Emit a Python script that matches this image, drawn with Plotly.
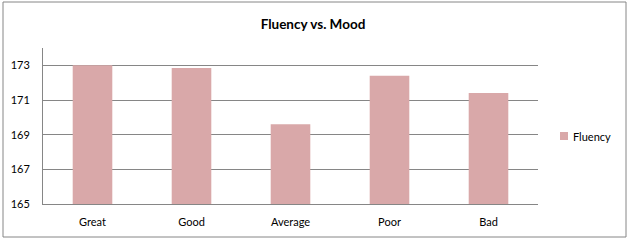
import plotly.graph_objects as go

categories = ["Great", "Good", "Average", "Poor", "Bad"]
fluency = [173.0, 172.85, 169.6, 172.4, 171.4]
y_ticks = [165, 167, 169, 171, 173]
series_name = "Fluency"
bar_color = "#D9A8A9"

W, H = 629, 241
L, R, T, B = 43, 91, 48, 37
pw, ph = W - L - R, H - T - B

def px_x(x):
    return (x - L) / pw

def px_y(y):
    return (H - B - y) / ph

fig = go.Figure()
fig.add_trace(go.Bar(
    x=categories, y=fluency, name=series_name,
    marker=dict(color=bar_color, line=dict(width=0)),
    showlegend=False,
))

fig.update_layout(
    width=W, height=H,
    margin=dict(l=L, r=R, t=T, b=B, autoexpand=False),
    paper_bgcolor="white", plot_bgcolor="white",
    font=dict(family="Lato, Open Sans, sans-serif", size=11, color="#000000"),
    title=dict(text="<b>Fluency vs. Mood</b>", x=313 / W, xanchor="center",
               y=1 - 24 / H, yanchor="middle",
               font=dict(size=13.5, family="Lato, Open Sans, sans-serif", color="#000000")),
    bargap=0.6,
    showlegend=False,
    xaxis=dict(showgrid=False, showline=True, linecolor="#868686", linewidth=1,
               ticks="", tickfont=dict(size=11), ticklabelstandoff=8),
    yaxis=dict(range=[165, 174], tickvals=y_ticks, showgrid=True,
               gridcolor="#868686", gridwidth=1, showline=True,
               linecolor="#868686", linewidth=1, zeroline=False,
               ticks="", tickfont=dict(size=11), ticklabelstandoff=10),
    shapes=[
        dict(type="rect", xref="paper", yref="paper",
             x0=px_x(3), x1=px_x(626), y0=px_y(237), y1=px_y(2),
             line=dict(color="#868686", width=1), fillcolor="rgba(0,0,0,0)",
             layer="below"),
        # legend swatch
        dict(type="rect", xref="paper", yref="paper",
             x0=px_x(560), x1=px_x(568), y0=px_y(140), y1=px_y(132),
             line=dict(width=0), fillcolor=bar_color),
    ],
    annotations=[
        dict(text=series_name, xref="paper", yref="paper",
             x=px_x(571), y=px_y(136), xanchor="left", yanchor="middle",
             showarrow=False, font=dict(size=11)),
    ],
)

fig.write_html("out.html")
